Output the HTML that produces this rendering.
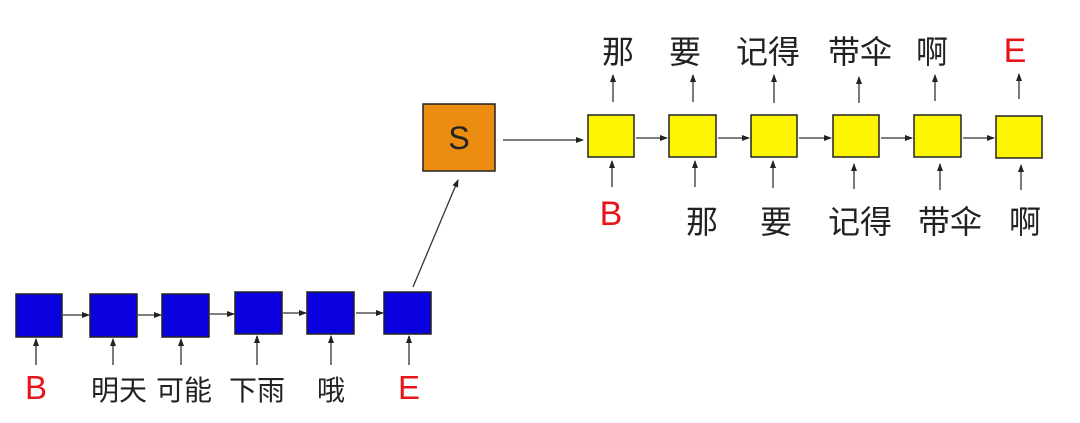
<!DOCTYPE html>
<html><head><meta charset="utf-8"><style>
html,body{margin:0;padding:0;background:#fff;}
svg{display:block;}
text{font-family:"Liberation Sans","Noto Sans CJK SC",sans-serif;fill:#222;}
.r{fill:#e8141a;}
</style></head><body>
<svg width="1080" height="423" viewBox="0 0 1080 423" xmlns="http://www.w3.org/2000/svg">
<defs><marker id="a" markerWidth="8" markerHeight="6" refX="7" refY="3" orient="auto" markerUnits="userSpaceOnUse"><path d="M0,0 L8,3 L0,6 Z" fill="#222"/></marker></defs>
<g stroke="#333" stroke-width="1.3" fill="none" marker-end="url(#a)">
<!-- blue chain -->
<line x1="63" y1="315" x2="89" y2="315"/>
<line x1="138" y1="315" x2="161" y2="315"/>
<line x1="210" y1="314" x2="234" y2="314"/>
<line x1="283" y1="313" x2="306" y2="313"/>
<line x1="356" y1="313" x2="383" y2="313"/>
<line x1="36" y1="365" x2="36" y2="339"/>
<line x1="113" y1="365" x2="113" y2="339"/>
<line x1="181" y1="365" x2="181" y2="339"/>
<line x1="257" y1="365" x2="257" y2="336"/>
<line x1="331" y1="365" x2="331" y2="336"/>
<line x1="409" y1="365" x2="409" y2="336"/>
<line x1="413" y1="287" x2="458" y2="180"/>
<line x1="503" y1="140" x2="583" y2="140"/>
<!-- yellow chain -->
<line x1="636" y1="138" x2="667" y2="138"/>
<line x1="718" y1="138" x2="749" y2="138"/>
<line x1="799" y1="138" x2="831" y2="138"/>
<line x1="881" y1="138" x2="912" y2="138"/>
<line x1="963" y1="138" x2="994" y2="138"/>
<line x1="613" y1="102" x2="613" y2="75"/>
<line x1="693" y1="102" x2="693" y2="75"/>
<line x1="774" y1="103" x2="774" y2="75"/>
<line x1="859" y1="103" x2="859" y2="77"/>
<line x1="935" y1="101" x2="935" y2="75"/>
<line x1="1019" y1="99" x2="1019" y2="74"/>
<line x1="612" y1="187" x2="612" y2="161"/>
<line x1="695" y1="187" x2="695" y2="161"/>
<line x1="773" y1="188" x2="773" y2="161"/>
<line x1="854" y1="189" x2="854" y2="164"/>
<line x1="940" y1="190" x2="940" y2="164"/>
<line x1="1021" y1="190" x2="1021" y2="165"/>
</g>
<g fill="#0a00e0" stroke="#222" stroke-width="1.5">
<rect x="16" y="294" width="46" height="43"/>
<rect x="90" y="294" width="47" height="43"/>
<rect x="162" y="294" width="47" height="43"/>
<rect x="235" y="292" width="47" height="42"/>
<rect x="307" y="292" width="47" height="42"/>
<rect x="384" y="292" width="47" height="42"/>
</g>
<rect x="423" y="104" width="72" height="67" fill="#ec8c10" stroke="#222" stroke-width="1.5"/>
<text x="459" y="149" font-size="32" text-anchor="middle">S</text>
<g fill="#fdf500" stroke="#222" stroke-width="1.5">
<rect x="588" y="115" width="46" height="42"/>
<rect x="669" y="115" width="47" height="42"/>
<rect x="751" y="115" width="46" height="42"/>
<rect x="833" y="115" width="46" height="42"/>
<rect x="914" y="115" width="47" height="42"/>
<rect x="996" y="116" width="46" height="42"/>
</g>
<g font-size="28" text-anchor="middle">
<text x="36" y="399" class="r" font-size="33">B</text>
<text x="119" y="400">明天</text>
<text x="184" y="400">可能</text>
<text x="257" y="400">下雨</text>
<text x="331" y="400">哦</text>
<text x="409" y="399" class="r" font-size="33">E</text>
</g>
<g font-size="32" text-anchor="middle">
<text x="618" y="63">那</text>
<text x="685" y="63">要</text>
<text x="768" y="63">记得</text>
<text x="860" y="63">带伞</text>
<text x="932" y="63">啊</text>
<text x="1015" y="62" class="r" font-size="34">E</text>
<text x="611" y="225" class="r" font-size="34">B</text>
<text x="702" y="233">那</text>
<text x="776" y="233">要</text>
<text x="860" y="233">记得</text>
<text x="950" y="233">带伞</text>
<text x="1025" y="233">啊</text>
</g>
</svg>
</body></html>
